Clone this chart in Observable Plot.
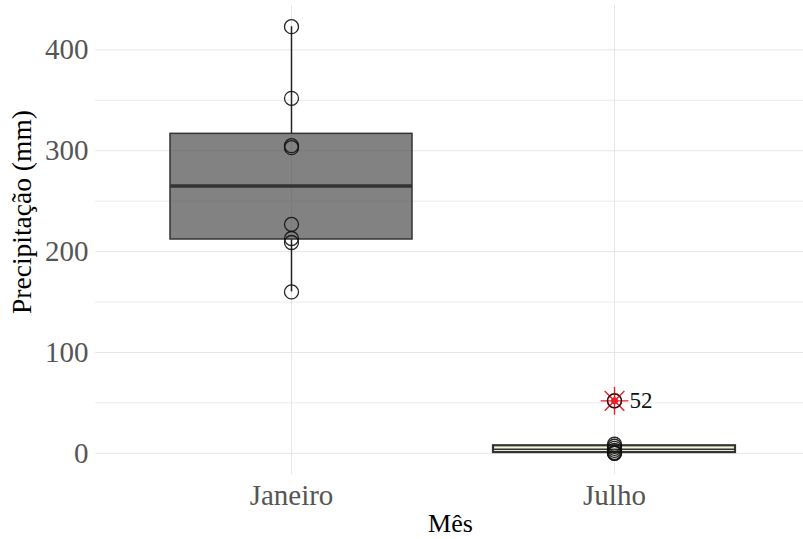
<!DOCTYPE html>
<html>
<head>
<meta charset="utf-8">
<script src="https://cdn.jsdelivr.net/npm/d3@7"></script>
<script src="https://cdn.jsdelivr.net/npm/@observablehq/plot@0.6"></script>
<style>
  body { margin: 0; background: #fff; }
  #chart svg { display: block; }
</style>
</head>
<body>
<div id="chart"></div>
<script>
// Monthly precipitation (mm) observed in each year
const months = ["Janeiro", "Julho"];
const janeiro = [160, 209, 213, 227, 303, 305, 352, 423];
const julho = [0, 0, 1, 3, 5, 7, 9, 52];
const yTicks = [0, 100, 200, 300, 400];
const yMinor = [50, 150, 250, 350];

const series = {Janeiro: janeiro, Julho: julho};
const points = months.flatMap(m => series[m].map(v => ({month: m, value: v})));

// Box-plot statistics (R type-7 quantiles, 1.5 IQR whiskers)
const stats = months.map(m => {
  const v = series[m].slice().sort(d3.ascending);
  const q1 = d3.quantile(v, 0.25), med = d3.quantile(v, 0.5), q3 = d3.quantile(v, 0.75);
  const iqr = q3 - q1;
  const inside = v.filter(x => x >= q1 - 1.5 * iqr && x <= q3 + 1.5 * iqr);
  return {month: m, q1, med, q3, lo: d3.min(inside), hi: d3.max(inside),
          outliers: v.filter(x => x < q1 - 1.5 * iqr || x > q3 + 1.5 * iqr)};
});
const outliers = stats.flatMap(s => s.outliers.map(v => ({month: s.month, value: v})));

const font = "Liberation Serif, Times New Roman, serif";
const grid = "#e6e6e6";
const red = "#e8202a";

const chart = Plot.plot({
  width: 803,
  height: 539,
  marginLeft: 95,
  marginRight: -8,
  marginTop: 5,
  marginBottom: 65,
  style: {fontFamily: font, background: "#fff", overflow: "hidden"},
  x: {type: "band", domain: months, paddingInner: 0.25, paddingOuter: 0.23},
  y: {domain: [-21, 444]},
  marks: [
    Plot.ruleY(yMinor, {stroke: grid, strokeWidth: 0.8}),
    Plot.ruleY(yTicks, {stroke: grid, strokeWidth: 1}),
    Plot.gridX({stroke: grid, strokeOpacity: 1, strokeWidth: 1}),
    Plot.axisY({ticks: yTicks, tickSize: 0, tickPadding: 7, fontSize: 29, fontFamily: font, color: "#555", label: null}),
    Plot.axisX({tickSize: 0, tickPadding: 10, fontSize: 29, fontFamily: font, color: "#555", label: null}),
    Plot.text(["Precipitação (mm)"], {frameAnchor: "left", textAnchor: "middle", rotate: -90, dx: -73, dy: -28, fontSize: 27.5, fontFamily: font, fill: "#000"}),
    Plot.text(["Mês"], {frameAnchor: "bottom", dy: 57, dx: -3, fontSize: 26, fontFamily: font, fill: "#000"}),
    // whiskers
    Plot.ruleX(stats, {x: "month", y1: "q3", y2: "hi", stroke: "#222", strokeWidth: 1.5}),
    Plot.ruleX(stats, {x: "month", y1: "lo", y2: "q1", stroke: "#222", strokeWidth: 1.5}),
    // boxes
    Plot.barY(stats.filter(d => d.month === "Janeiro"), {x: "month", y1: "q1", y2: "q3", fill: "#444", fillOpacity: 0.67, stroke: "#333", strokeWidth: 1.5}),
    Plot.barY(stats.filter(d => d.month === "Julho"), {x: "month", y1: "q1", y2: "q3", fill: "#f5f5dc", stroke: "#333", strokeWidth: 2.2}),
    Plot.tickY(stats.filter(d => d.month === "Janeiro"), {x: "month", y: "med", stroke: "#333", strokeWidth: 3.5}),
    Plot.tickY(stats.filter(d => d.month === "Julho"), {x: "month", y: "med", stroke: "#333", strokeWidth: 1.5}),
    // outliers
    Plot.dot(outliers, {x: "month", y: "value", symbol: "plus", r: 9, stroke: red, strokeWidth: 1.4}),
    Plot.dot(outliers, {x: "month", y: "value", symbol: "times", r: 9, stroke: red, strokeWidth: 1.4}),
    Plot.dot(outliers, {x: "month", y: "value", r: 3.5, fill: red}),
    Plot.dot(outliers, {x: "month", y: "value", r: 7, stroke: red, strokeWidth: 1.5, fill: "none"}),
    // observations
    Plot.dot(points, {x: "month", y: "value", r: 7, stroke: "#111", strokeWidth: 1.3, fill: "none", strokeOpacity: 0.9}),
    Plot.text(outliers, {x: "month", y: "value", text: d => String(d.value), dx: 15, textAnchor: "start", fontSize: 23, fontFamily: font, fill: "#111"})
  ]
});
document.getElementById("chart").append(chart);
</script>
</body>
</html>
